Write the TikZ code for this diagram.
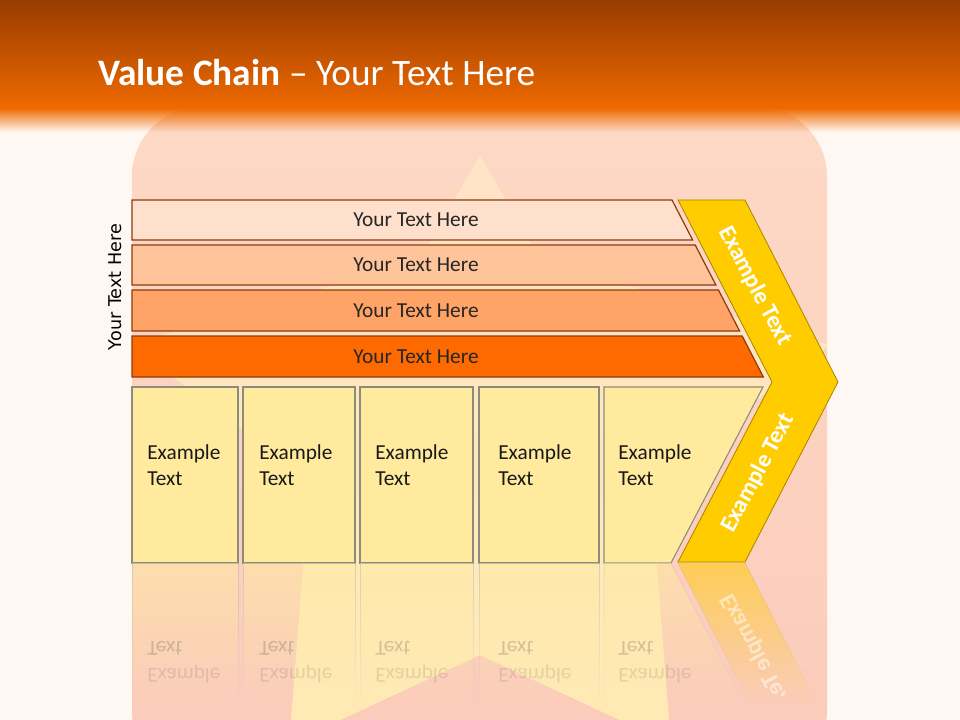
\documentclass[tikz,border=0pt]{standalone}
\usepackage{fontspec}
\setmainfont{Carlito}
\newfontfamily\sidefont{DejaVu Sans}
\usepackage{graphicx}
\usetikzlibrary{fadings}

\definecolor{pagebg}{HTML}{FFF8F2}
\definecolor{hdrtop}{HTML}{983C00}
\definecolor{hdrbot}{HTML}{EF6A00}
\definecolor{paneltop}{HTML}{FDD9C6}
\definecolor{panelbot}{HTML}{FBCABA}
\definecolor{startop}{HTML}{FFE4C6}
\definecolor{starbot}{HTML}{FFEAB4}
\definecolor{barA}{HTML}{FFE0CC}
\definecolor{barB}{HTML}{FFC499}
\definecolor{barC}{HTML}{FFA366}
\definecolor{barD}{HTML}{FF6A00}
\definecolor{barline}{HTML}{8E3A0C}
\definecolor{boxfill}{HTML}{FFEA9E}
\definecolor{boxline}{HTML}{8C8C7C}
\definecolor{chevfill}{HTML}{FFCC00}
\definecolor{chevline}{HTML}{A88400}

\tikzfading[name=hdrfade, top color=transparent!0, bottom color=transparent!100]
\tikzfading[name=mirrorfade, top color=transparent!45, bottom color=transparent!100]

\begin{document}
\begin{tikzpicture}[x=0.75pt,y=-0.75pt,
    bartext/.style={font=\fontsize{16}{19}\selectfont, text=black!85},
    boxtext/.style={font=\fontsize{16}{19.5}\selectfont, align=left, anchor=west, inner sep=0pt, text=black!90},
    mirrortext/.style={font=\fontsize{16}{19.5}\selectfont, anchor=west, inner sep=0pt, text=black!70},
    chevtext/.style={font=\bfseries\fontsize{18}{20}\selectfont, text=white}]
    % page
    \fill[pagebg] (0,0) rectangle (960,720);
    \useasboundingbox (0,0) rectangle (960,720);
    % panel and star
    \begin{scope}
        \clip[rounded corners=52pt] (132,780) -- (132,107) -- (827,107) -- (827,780) -- cycle;
        \shade[top color=paneltop, bottom color=panelbot] (132,100) rectangle (827,780);
        \shade[top color=startop, bottom color=starbot] (480,155) -- (540,260) -- (830,345) -- (650,480) -- (671,744)
            -- (480,655) -- (289,744) -- (310,480) -- (130,345) -- (420,260) -- cycle;
    \end{scope}
    % header
    \shade[top color=hdrtop, bottom color=hdrbot] (0,0) rectangle (960,108);
    \fill[hdrbot, path fading=hdrfade] (0,108) rectangle (960,132);
    \node[anchor=base west, inner sep=0pt, text=white, font=\fontsize{28}{32}\selectfont] (title) at (98,86)
        {\textbf{Value Chain} – Your Text Here};
    % bars
    \foreach \ya/\yb/\col [count=\i] in {200/240/barA, 245/285/barB, 290/331/barC, 336/377/barD}{
        \draw[barline, fill=\col, line width=0.9pt] (132,\ya) -- ({672+0.516*(\ya-200)},\ya)
            -- ({672+0.516*(\yb-200)},\yb) -- (132,\yb) -- cycle;
        \node[bartext] (bar\i) at (416,{(\ya+\yb)/2}) {Your Text Here};
    }
    \node[rotate=90, font=\sidefont\fontsize{13.2}{15}\selectfont] (side) at (115,287) {Your Text Here};
    % boxes
    \foreach \xa/\xb/\tx [count=\i] in {132/238/147, 243/355/259, 360/473/375, 479/599/498}{
        \draw[boxline, fill=boxfill, line width=0.8pt] (\xa,387) rectangle (\xb,563);
        \node[boxtext] (box\i) at (\tx,465) {Example\\Text};
    }
    \draw[boxline, fill=boxfill, line width=0.8pt] (604,387) -- (763,387) -- (671,563) -- (604,563) -- cycle;
    \node[boxtext] (box5) at (618,465) {Example\\Text};
    % chevron
    \draw[chevline, fill=chevfill, line width=0.6pt] (678,200) -- (745,200) -- (838,382) -- (745,562)
        -- (678,562) -- (772,382) -- cycle;
    \node[chevtext, rotate=-62] (chevup) at (755,286) {Example Text};
    \node[chevtext, rotate=62] (chevdown) at (758,473) {Example Text};
    % reflection
    \foreach \xa/\xb/\tx [count=\i] in {132/238/147, 243/355/259, 360/473/375, 479/599/498}{
        \draw[boxline!60, fill=boxfill, path fading=mirrorfade] (\xa,563) rectangle (\xb,705);
        \node[mirrortext, text opacity=0.25] (mtext\i) at (\tx,648) {\scalebox{1}[-1]{Text}};
        \node[mirrortext, text opacity=0.15] (mexample\i) at (\tx,674) {\scalebox{1}[-1]{Example}};
    }
    \draw[boxline!60, fill=boxfill, path fading=mirrorfade] (604,563) -- (671,563) -- (745,705) -- (604,705) -- cycle;
    \node[mirrortext, text opacity=0.25] (mtext5) at (618,648) {\scalebox{1}[-1]{Text}};
    \node[mirrortext, text opacity=0.15] (mexample5) at (618,674) {\scalebox{1}[-1]{Example}};
    \draw[chevline!60, fill=chevfill, path fading=mirrorfade] (678,563) -- (745,563) -- (818,705) -- (751,705) -- cycle;
    \begin{scope}
        \clip (660,563) rectangle (860,695);
        \node[chevtext, rotate=-62, text opacity=0.5] (mchev) at (757,653) {\scalebox{1}[-1]{Example Text}};
    \end{scope}
\end{tikzpicture}
\end{document}
